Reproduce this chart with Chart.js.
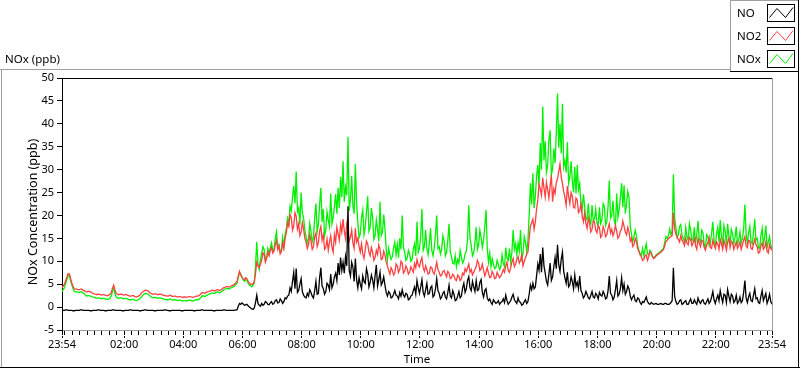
<!DOCTYPE html>
<html><head><meta charset="utf-8">
<script src="https://cdn.jsdelivr.net/npm/chart.js@4.4.0/dist/chart.umd.min.js"></script>
<style>html,body{margin:0;padding:0;background:#fff;overflow:hidden}#wrap{position:relative;width:800px;height:369px}canvas{display:block}</style>
</head><body><div id="wrap"><canvas id="c" width="800" height="369"></canvas></div>
<script>
// ---- data ----
const startLabel = "23:54";
const stepMinutes = 2.5;
const seriesNames = ["NO", "NO2", "NOx"];
const tickLabels = ["23:54","02:00","04:00","06:00","08:00","10:00","12:00","14:00","16:00","18:00","20:00","22:00","23:54"];
const axisTitleX = "Time";
const axisTitleY = "NOx Concentration (ppb)";
const captionText = "NOx (ppb)";

const no = [
-0.7,-0.7,-0.7,-0.6,-0.6,-0.7,-0.7,-0.7,-0.7,-0.8,-0.8,-0.7,-0.7,-0.7,-0.7,-0.6,-0.6,-0.7,-0.7,-0.7,-0.7,-0.7,-0.7,-0.8,
-0.8,-0.7,-0.7,-0.7,-0.7,-0.6,-0.6,-0.7,-0.7,-0.7,-0.7,-0.8,-0.8,-0.7,-0.7,-0.7,-0.7,-0.6,-0.6,-0.7,-0.7,-0.7,-0.7,-0.7,
-0.7,-0.8,-0.8,-0.7,-0.7,-0.7,-0.7,-0.6,-0.6,-0.7,-0.7,-0.7,-0.7,-0.7,-0.7,-0.8,-0.8,-0.7,-0.7,-0.6,-0.6,-0.7,-0.7,-0.7,
-0.7,-0.7,-0.7,-0.8,-0.8,-0.7,-0.7,-0.7,-0.7,-0.7,-0.7,-0.6,-0.6,-0.7,-0.7,-0.8,-0.8,-0.7,-0.7,-0.7,-0.7,-0.7,-0.7,-0.7,
-0.7,-0.8,-0.8,-0.7,-0.7,-0.7,-0.7,-0.7,-0.7,-0.7,-0.7,-0.8,-0.8,-0.7,-0.7,-0.7,-0.7,-0.6,-0.6,-0.7,-0.7,-0.7,-0.7,-0.7,
-0.7,-0.7,-0.7,-0.8,-0.8,-0.7,-0.7,-0.7,-0.7,-0.7,-0.7,-0.6,-0.6,-0.7,-0.7,-0.7,-0.7,-0.7,-0.7,-0.7,-0.7,-0.6,-0.6,0.2,
0.8,0.6,0.9,0.7,0.4,0.5,0.6,0.3,0.0,-0.2,-0.4,-0.5,-0.2,1.0,2.6,0.8,0.4,0.2,0.8,0.4,0.6,1.2,1.0,0.6,
0.5,0.9,1.2,0.6,0.8,1.4,1.6,0.9,1.0,1.8,1.4,0.8,1.2,2.0,1.8,2.4,2.6,4.2,3.4,5.6,7.6,4.0,8.4,3.2,
3.6,5.0,6.2,3.4,2.6,2.2,2.0,3.0,2.4,3.8,3.2,2.4,2.0,3.6,5.6,2.8,3.0,6.4,8.6,4.6,4.0,2.8,3.4,5.2,
4.8,3.8,7.2,4.2,5.0,6.6,7.4,5.8,9.6,7.0,10.8,8.0,9.8,7.4,11.0,9.0,22.0,8.0,6.8,9.8,8.8,5.6,10.6,6.0,
4.2,6.4,5.0,4.0,6.8,5.6,5.2,8.4,7.2,4.4,5.4,7.0,6.0,4.2,6.8,9.2,4.6,6.0,7.6,4.8,5.4,6.6,4.8,3.2,
2.4,3.4,3.0,2.0,2.2,2.8,3.6,2.6,2.4,1.8,3.2,2.4,3.8,2.6,2.2,3.0,2.8,1.6,1.8,2.4,2.6,3.6,4.4,2.8,
5.8,4.2,3.0,4.4,6.0,3.2,2.4,3.8,5.2,2.8,3.0,4.2,4.6,2.2,2.6,4.0,6.2,3.6,3.0,1.8,2.2,3.0,3.4,2.2,
1.8,3.2,4.8,2.4,2.0,3.6,2.8,1.4,1.6,2.4,3.4,2.0,2.4,4.2,5.2,3.2,4.0,5.8,6.6,4.2,3.6,5.6,4.4,3.4,
5.8,3.6,3.8,5.4,6.0,3.2,2.2,3.6,4.0,2.0,1.4,1.8,1.0,0.6,1.6,1.2,0.8,1.0,1.4,0.6,1.0,1.2,1.8,1.0,
2.6,1.4,0.6,1.0,1.4,2.2,2.8,1.6,1.2,0.8,2.0,1.2,1.0,0.4,0.6,1.2,1.6,0.8,1.2,2.8,4.8,3.8,5.2,4.0,
4.4,6.8,9.4,8.0,11.6,7.6,13.0,9.0,7.4,5.6,4.8,7.2,9.6,5.8,6.6,8.8,10.8,8.4,13.6,9.2,7.8,10.4,12.0,7.8,
6.4,5.2,7.6,4.4,4.8,6.6,5.6,4.0,7.0,4.6,5.4,4.0,6.8,3.6,3.0,2.0,2.4,3.4,2.8,2.0,1.8,2.6,3.4,2.2,
2.0,3.0,2.6,1.8,3.2,2.6,2.4,3.4,2.8,1.8,2.0,3.6,6.8,3.0,2.6,1.6,2.2,3.8,5.8,2.4,2.8,4.0,6.4,3.6,
5.0,2.8,3.4,4.6,4.0,2.4,1.6,2.2,2.6,1.4,1.2,2.0,1.8,1.0,0.6,1.2,1.0,1.6,2.2,1.2,0.8,0.6,1.0,0.8,
0.6,0.7,0.8,0.6,0.6,0.7,0.8,0.6,0.6,0.8,0.8,0.6,0.6,0.7,1.0,1.4,8.6,2.4,1.2,0.6,0.8,1.4,1.6,0.6,
0.8,1.2,1.4,0.6,0.6,1.2,1.8,0.8,0.8,1.6,1.0,0.6,2.0,1.2,0.8,1.4,1.6,0.8,0.6,1.2,1.8,0.8,1.2,2.2,
3.4,1.6,0.8,1.8,2.6,1.4,3.6,2.2,1.0,2.8,2.6,1.0,3.8,2.4,1.2,2.8,2.4,1.0,1.4,2.6,0.8,1.2,2.2,1.0,
1.4,3.2,5.8,2.0,1.0,2.2,3.0,1.4,1.2,2.6,4.0,1.8,2.0,1.0,0.8,2.4,3.6,1.4,2.2,3.0,0.8,1.6,2.8,1.2,
0.6];

const no2 = [
4.2,4.6,5.0,5.8,6.6,7.3,7.2,6.2,5.2,4.5,4.0,3.9,3.9,3.8,3.8,3.9,3.9,3.7,3.6,3.4,3.3,3.4,3.4,3.3,
3.2,3.0,2.9,2.8,2.7,2.8,2.8,2.7,2.6,2.7,2.7,2.6,2.5,2.5,2.6,2.8,3.2,4.2,4.8,3.6,3.0,2.8,2.7,2.8,
2.8,2.7,2.6,2.7,2.7,2.6,2.5,2.4,2.4,2.5,2.5,2.3,2.2,2.3,2.4,2.6,2.9,3.2,3.4,3.6,3.7,3.6,3.5,3.2,
3.0,2.9,2.8,2.9,2.9,2.8,2.7,2.8,2.8,2.7,2.6,2.5,2.5,2.4,2.4,2.5,2.6,2.4,2.3,2.4,2.4,2.3,2.2,2.3,
2.3,2.2,2.1,2.2,2.2,2.1,2.2,2.3,2.3,2.2,2.1,2.2,2.3,2.4,2.4,2.5,2.7,3.0,3.2,3.1,3.0,3.2,3.3,3.4,
3.5,3.6,3.7,3.6,3.5,3.7,3.8,3.7,3.6,3.8,4.0,4.2,4.3,4.4,4.5,4.4,4.4,4.6,4.7,4.8,5.0,5.3,5.6,6.8,
7.8,7.0,6.5,6.2,6.0,6.4,6.2,5.6,5.2,5.0,4.9,5.1,5.6,7.4,9.8,9.0,8.6,9.4,10.2,11.8,11.5,9.8,10.6,12.0,
11.2,12.4,13.0,11.8,12.2,13.6,14.6,12.6,13.4,11.6,12.1,14.0,12.8,15.0,16.2,18.4,17.6,20.2,19.5,16.8,17.8,20.6,19.8,17.0,
18.2,15.6,16.4,18.4,17.0,15.0,14.2,12.8,13.6,15.8,14.4,12.6,13.2,15.4,16.2,13.2,14.0,16.6,17.6,14.6,15.8,12.6,13.0,14.8,
12.4,14.2,15.6,13.0,12.0,15.8,14.2,17.4,16.0,14.6,18.0,16.4,19.2,16.6,15.0,18.2,17.0,14.4,15.2,16.8,14.0,12.8,17.2,14.2,
15.0,13.2,12.0,13.8,11.6,10.6,12.5,14.4,13.8,12.0,11.2,13.0,12.0,10.2,10.8,12.4,11.5,13.6,12.6,10.4,10.6,12.2,11.4,9.8,
9.0,8.0,7.2,8.6,8.0,7.0,7.5,9.4,9.0,7.6,8.2,10.0,9.6,7.4,7.8,9.0,8.4,7.2,7.6,8.8,8.2,7.6,9.5,8.6,
10.4,9.2,8.8,10.0,10.8,8.6,7.8,9.0,8.2,7.2,7.4,8.8,8.6,7.6,7.2,8.4,9.8,8.2,7.6,6.8,7.0,7.8,8.0,7.2,
6.6,7.8,7.4,6.2,6.4,7.2,6.8,6.0,5.8,7.0,6.6,5.8,6.2,7.4,7.0,8.4,7.8,8.6,9.4,7.6,8.2,7.0,7.6,8.2,
8.8,10.2,9.6,8.0,8.4,9.4,8.0,6.8,7.6,8.6,7.4,6.4,6.6,7.8,7.2,6.2,6.4,7.6,7.0,6.4,6.8,7.4,8.2,7.6,
9.0,9.8,8.0,7.6,8.6,9.8,10.6,8.8,9.4,10.4,11.0,9.6,10.2,11.4,9.0,10.0,10.8,11.6,12.0,15.0,17.6,18.4,19.2,17.0,
18.6,21.4,23.4,26.8,25.8,24.4,28.2,26.0,24.0,27.2,25.6,23.8,26.4,28.8,23.0,25.8,24.8,27.2,28.0,29.6,31.2,28.4,27.0,25.2,
24.0,22.2,26.4,24.2,22.6,25.0,24.2,21.8,21.6,23.8,23.4,20.6,21.0,22.6,19.8,18.6,20.6,18.2,17.2,19.4,18.4,16.4,17.0,18.8,
18.6,16.8,16.2,17.8,17.4,15.2,15.6,17.6,16.8,15.4,15.8,17.2,18.2,16.2,17.0,15.6,16.4,17.8,16.6,15.0,15.4,16.6,17.0,18.8,
17.6,16.4,15.8,17.4,16.4,14.4,15.0,13.2,13.6,15.0,14.4,12.8,12.2,11.4,11.0,10.2,10.4,11.2,11.4,10.2,11.0,12.0,11.8,11.0,
10.6,10.8,11.2,11.4,11.6,11.8,12.0,12.3,12.6,13.4,14.4,14.6,15.0,15.2,15.4,15.6,20.6,17.0,16.0,15.2,14.8,14.2,15.6,14.6,
14.2,13.4,15.0,14.0,13.6,15.2,14.8,13.4,14.0,15.0,13.4,12.6,15.0,14.0,13.2,14.6,14.4,13.0,12.4,13.6,14.0,15.2,13.0,12.8,
14.6,13.6,12.8,14.2,13.8,12.6,14.8,13.8,12.6,14.6,13.6,12.4,14.2,15.0,13.0,14.4,14.0,12.6,13.4,14.2,12.8,13.4,14.2,12.6,
13.6,14.6,15.4,13.4,13.0,14.6,14.4,12.8,12.6,13.8,14.8,13.6,13.2,11.8,12.0,13.4,14.0,12.6,13.0,14.2,12.2,11.8,13.6,12.8,
12.4];

const nox = [
3.4,3.8,4.2,5.2,6.0,6.9,6.8,5.8,4.8,4.0,3.4,3.3,3.3,3.2,3.2,3.3,3.3,3.1,2.9,2.6,2.4,2.5,2.5,2.4,
2.3,2.2,2.1,2.0,1.9,2.0,2.0,1.9,1.8,1.9,1.9,1.8,1.7,1.7,1.8,2.0,2.4,3.5,4.1,2.9,2.2,2.0,1.9,2.0,
2.0,1.9,1.8,1.9,1.9,1.8,1.7,1.6,1.6,1.7,1.7,1.5,1.4,1.5,1.6,1.8,2.1,2.4,2.7,2.9,3.0,2.9,2.8,2.5,
2.3,2.1,2.0,2.1,2.1,2.0,1.9,2.0,2.0,1.9,1.8,1.7,1.7,1.6,1.6,1.7,1.8,1.6,1.5,1.6,1.6,1.5,1.4,1.5,
1.5,1.4,1.3,1.4,1.4,1.3,1.4,1.5,1.5,1.4,1.3,1.4,1.5,1.6,1.6,1.7,1.9,2.2,2.5,2.4,2.3,2.5,2.6,2.8,
2.9,3.0,3.1,3.0,3.0,3.2,3.3,3.2,3.1,3.3,3.5,3.7,3.9,4.0,4.1,4.0,4.0,4.2,4.3,4.4,4.6,4.9,5.2,6.4,
7.6,7.2,6.6,6.0,5.6,6.0,5.8,5.2,4.8,4.6,4.4,4.8,5.2,9.0,14.2,9.4,8.2,10.4,11.8,13.2,12.6,10.2,10.8,12.8,
11.6,13.0,14.0,12.2,12.6,15.0,16.4,13.2,13.6,12.0,12.4,15.2,13.2,16.0,17.0,19.4,18.4,22.0,21.0,24.0,26.4,22.6,29.6,20.8,
21.6,18.0,25.0,20.6,19.4,16.8,15.4,14.0,15.0,18.2,16.4,14.2,15.2,19.6,22.6,16.4,18.0,22.4,26.0,18.6,21.4,15.6,16.8,20.8,
19.0,17.6,24.8,18.2,19.6,22.0,24.6,20.4,26.0,21.6,28.4,24.0,31.8,23.0,26.2,24.4,37.2,21.0,23.4,28.6,22.0,20.4,31.2,22.6,
18.4,15.2,16.0,19.6,21.2,15.8,17.4,20.8,24.2,16.6,17.4,21.6,19.6,14.8,15.6,19.0,17.0,14.4,23.0,15.6,16.4,20.2,17.2,12.6,
10.2,12.8,11.4,10.4,11.0,13.0,14.2,11.4,13.6,10.8,15.0,12.6,20.0,13.0,12.0,10.2,10.6,12.4,11.6,10.0,10.4,12.6,13.8,11.2,
18.6,12.0,12.8,15.6,21.4,12.4,13.2,16.8,12.8,11.4,14.0,17.2,12.4,11.2,13.0,15.8,20.0,12.8,13.2,11.6,12.6,15.6,14.4,11.2,
12.0,14.6,18.2,12.0,11.0,9.6,9.4,11.2,8.8,10.4,9.6,12.4,11.0,9.6,10.2,11.6,12.2,14.8,22.2,15.0,13.4,11.2,11.8,14.0,
17.4,12.6,13.6,16.8,15.2,13.0,14.6,17.6,21.2,12.8,9.8,11.8,8.8,10.6,9.4,8.4,8.6,10.2,9.2,8.2,8.8,11.4,9.6,8.8,
13.0,10.6,10.2,12.8,9.8,12.0,16.8,12.6,13.8,11.4,14.0,12.2,16.8,10.6,11.6,15.4,14.2,12.0,14.6,20.0,27.0,22.4,29.2,21.6,
24.2,28.6,31.0,26.4,35.8,30.0,43.8,32.0,36.2,29.4,31.0,36.4,38.6,28.8,30.2,34.6,31.4,38.0,46.6,34.8,40.0,33.6,44.4,30.6,
32.0,29.4,36.0,27.0,28.4,31.8,27.6,25.0,30.6,24.8,31.0,25.6,27.0,22.4,21.2,24.6,22.0,19.0,19.4,22.6,19.0,18.2,22.2,18.8,
19.2,21.4,18.4,17.6,21.8,18.2,19.0,22.6,22.0,17.8,18.6,22.0,27.6,19.4,20.0,23.2,19.0,17.8,24.8,19.6,21.2,24.0,27.0,21.8,
26.6,20.4,22.6,25.2,24.0,17.6,16.0,14.2,15.4,16.8,15.6,13.4,12.4,11.6,11.4,12.8,11.2,12.6,13.8,11.6,11.4,12.4,12.0,11.0,
10.8,11.0,11.4,11.6,11.8,12.0,12.2,12.6,12.8,14.2,15.4,15.0,15.6,17.0,15.8,16.6,29.0,19.6,17.4,15.2,15.8,17.6,18.0,15.6,
15.0,14.2,17.4,15.4,14.6,18.2,16.8,14.4,15.0,17.4,14.0,15.8,18.8,14.8,14.2,16.8,16.2,13.6,12.8,15.8,15.4,13.4,14.0,16.2,
18.6,14.4,13.2,16.0,17.4,14.2,19.0,15.6,13.2,17.8,16.6,13.4,18.2,15.4,14.0,17.0,16.0,13.8,15.2,17.6,13.8,14.6,16.4,14.0,
15.0,17.0,22.4,16.0,14.0,16.2,17.6,14.2,13.8,16.4,19.2,14.6,15.0,13.0,12.8,15.6,17.2,13.6,15.2,17.8,13.0,14.2,15.4,13.4,
12.8];

// ---- helpers ----
const FONT = "'Noto Sans', 'Open Sans', sans-serif";
const COLORS = ["#000000", "#ff4040", "#00f000"];
const toMin = s => { const p = s.split(':').map(Number); return p[0]*60 + p[1]; };
const startMin = toMin(startLabel);
const span = 1440;
const majorTicks = tickLabels.map((lbl, i) => {
  let d = (toMin(lbl) - startMin + 1440) % 1440;
  if (i === tickLabels.length - 1 && d === 0) d = span;
  return { value: d, label: lbl };
});
const minorTicks = [];
for (let m = (1440 - startMin) % 15; m < span; m += 15) minorTicks.push(m);
const allTickVals = Array.from(new Set([...majorTicks.map(t => t.value), ...minorTicks])).sort((a, b) => a - b);
const labelOf = v => { const t = majorTicks.find(t => t.value === v); return t ? t.label : ''; };
const pts = arr => arr.map((v, i) => ({ x: i * stepMinutes, y: v }));

const frame = {
  id: 'frame',
  afterDraw(chart) {
    const c = chart.ctx, a = chart.chartArea, xs = chart.scales.x;
    c.save();
    c.fillStyle = '#000'; c.fillRect(a.left, Math.round(a.top), Math.round(a.right - a.left) + 1, 1);
    c.fillStyle = '#a0a0a0'; c.fillRect(Math.round(a.right), Math.round(a.top), 1, Math.round(a.bottom - a.top) + 1);
    c.fillStyle = '#000';
    majorTicks.forEach(t => { const px = Math.round(xs.getPixelForValue(t.value) - 0.5); c.fillRect(px, Math.round(a.bottom) + 6, 1, 2); });
    c.fillStyle = '#a0a0a0';
    c.fillRect(0, 69, 731, 1);
    c.fillRect(1, 69, 1, 299);
    c.fillRect(730, 0, 1, 72);
    c.fillRect(730, 0, 69, 1);
    c.fillStyle = '#000';
    c.fillRect(0, 367, 800, 1);
    c.fillRect(798, 0, 1, 368);
    c.fillRect(730, 71, 69, 1);
    c.fillStyle = '#000';
    c.font = "11.5px " + FONT;
    c.textBaseline = 'middle'; c.textAlign = 'left';
    c.fillText(captionText, 5, 60);
    seriesNames.forEach((n, i) => {
      const y0 = 4 + i * 23.2;
      c.fillStyle = '#000'; c.textAlign = 'left';
      c.fillText(n, 737, y0 + 9.5);
      c.strokeStyle = '#000'; c.lineWidth = 1;
      const bx = 767.5, by = Math.round(y0) + 0.5;
      c.strokeRect(bx, by, 27, 17);
      c.strokeStyle = COLORS[i];
      c.beginPath();
      c.moveTo(bx + 2, by + 13); c.lineTo(bx + 9.5, by + 4); c.lineTo(bx + 18, by + 13); c.lineTo(bx + 25.5, by + 3);
      c.stroke();
    });
    c.fillStyle = '#000'; c.textAlign = 'center'; c.textBaseline = 'middle';
    c.font = "11.5px " + FONT;
    c.fillText(axisTitleX, (a.left + a.right) / 2, 360);
    c.font = "12.5px " + FONT;
    c.translate(33, 212); c.rotate(-Math.PI / 2);
    c.fillText(axisTitleY, 0, 0);
    c.restore();
  }
};

const mkSet = (label, arr, color) => ({
  label, data: pts(arr), borderColor: color, backgroundColor: color,
  borderWidth: 1.3, pointRadius: 0, tension: 0, fill: false
});

new Chart(document.getElementById('c').getContext('2d'), {
  type: 'line',
  data: { datasets: [
    mkSet(seriesNames[0], no, COLORS[0]),
    mkSet(seriesNames[1], no2, COLORS[1]),
    mkSet(seriesNames[2], nox, COLORS[2])
  ] },
  options: {
    responsive: false, animation: false, events: [],
    layout: { padding: { left: 0, top: 78, right: 28, bottom: 0 } },
    plugins: { legend: { display: false }, tooltip: { enabled: false }, title: { display: false } },
    scales: {
      x: {
        type: 'linear', min: 0, max: span,
        afterBuildTicks: s => { s.ticks = allTickVals.map(v => ({ value: v })); },
        afterFit: s => { s.height = 39; },
        ticks: { autoSkip: false, maxRotation: 0, minRotation: 0, padding: 3, color: '#000',
          font: { family: FONT, size: 11 }, callback: v => labelOf(v) },
        grid: { display: true, drawOnChartArea: false, drawTicks: true, tickLength: 5, tickColor: '#000', tickWidth: 1 },
        border: { display: true, color: '#a0a0a0', width: 1 }
      },
      y: {
        type: 'linear', min: -5, max: 50,
        afterFit: s => { s.width = 62; },
        ticks: { stepSize: 5, padding: 3, color: '#000', font: { family: FONT, size: 11 } },
        grid: { display: true, drawOnChartArea: false, drawTicks: true, tickLength: 5, tickColor: '#000', tickWidth: 1 },
        border: { display: true, color: '#000', width: 1 }
      }
    }
  },
  plugins: [frame]
});
</script>
</body></html>
